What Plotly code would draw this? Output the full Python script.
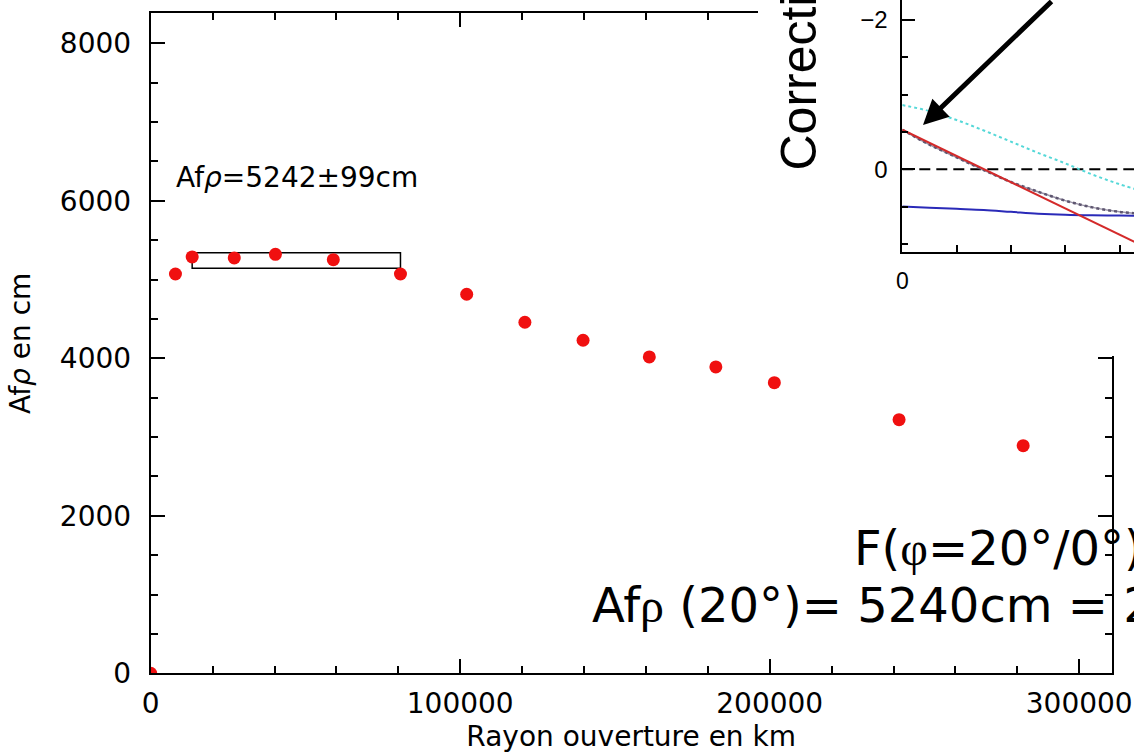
import plotly.graph_objects as go

W, H = 1134, 753

# ---- main chart data ----
radius_km = [0, 8000, 13400, 27000, 40300, 59000, 80700, 102100, 120900,
             139700, 161100, 182600, 201500, 241800, 281900]
afrho_cm = [0, 5070, 5287, 5274, 5320, 5252, 5070, 4813, 4457,
            4229, 4017, 3890, 3690, 3220, 2890]
plateau_mean = 5242
plateau_err = 99
plateau_x = [13400, 80700]

x_ticks = [0, 100000, 200000, 300000]
y_ticks = [0, 2000, 4000, 6000, 8000]

# ---- inset data (correction curves vs phase angle) ----
phase_deg = [0, 5, 10, 15, 20, 25, 30, 35, 40, 45]
corr_cyan = [-0.86, -0.78, -0.66, -0.52, -0.37, -0.22, -0.08, 0.07, 0.20, 0.31]
corr_red = [-0.53, -0.355, -0.18, 0.0, 0.17, 0.35, 0.52, 0.70, 0.875, 1.05]
corr_gray = [-0.53, -0.33, -0.16, 0.01, 0.17, 0.30, 0.42, 0.51, 0.57, 0.60]
corr_blue = [0.50, 0.515, 0.53, 0.545, 0.57, 0.595, 0.61, 0.617, 0.62, 0.625]
zero_x = [0, 45]
zero_y = [0, 0]


def fx(p):
    return p / W


def fy(p):
    return 1 - p / H


fig = go.Figure()

# main points
fig.add_trace(go.Scatter(
    x=radius_km, y=afrho_cm, mode="markers",
    marker=dict(color="#f01010", size=13, line=dict(width=0)),
    xaxis="x", yaxis="y", cliponaxis=True, showlegend=False))

# blank subplot that acts as the white inset panel
fig.add_trace(go.Scatter(x=[None], y=[None], xaxis="x2", yaxis="y2",
                         showlegend=False))

# inset curves
fig.add_trace(go.Scatter(x=zero_x, y=zero_y, mode="lines",
                         line=dict(color="black", width=2, dash="11px,6px"),
                         xaxis="x3", yaxis="y3", showlegend=False))
fig.add_trace(go.Scatter(x=phase_deg, y=corr_cyan, mode="lines",
                         line=dict(color="#55d8d8", width=2, dash="dot", shape="spline"),
                         xaxis="x3", yaxis="y3", showlegend=False))
fig.add_trace(go.Scatter(x=phase_deg, y=corr_blue, mode="lines",
                         line=dict(color="#2a2ab8", width=2, shape="spline"),
                         xaxis="x3", yaxis="y3", showlegend=False))
fig.add_trace(go.Scatter(x=phase_deg, y=corr_gray, mode="lines",
                         line=dict(color="#9a94a8", width=1.5, shape="spline"),
                         xaxis="x3", yaxis="y3", showlegend=False))
fig.add_trace(go.Scatter(x=phase_deg, y=corr_gray, mode="lines",
                         line=dict(color="#5e5670", width=2.5, dash="dot", shape="spline"),
                         xaxis="x3", yaxis="y3", showlegend=False))
fig.add_trace(go.Scatter(x=phase_deg, y=corr_red, mode="lines",
                         line=dict(color="#d42a2a", width=2),
                         xaxis="x3", yaxis="y3", showlegend=False))

# plateau rectangle
fig.add_shape(type="rect", xref="x", yref="y",
              x0=plateau_x[0], x1=plateau_x[1],
              y0=plateau_mean - plateau_err, y1=plateau_mean + plateau_err,
              line=dict(color="black", width=1.5), layer="below")

tickfont_main = dict(family="DejaVu Sans", size=28, color="black")
tickfont_inset = dict(family="Liberation Sans", size=24, color="black")

fig.update_layout(
    template="none",
    width=W, height=H,
    margin=dict(l=0, r=0, t=0, b=0, pad=0, autoexpand=False),
    paper_bgcolor="white", plot_bgcolor="white",
    showlegend=False,
    xaxis=dict(
        domain=[fx(150.7), fx(1111.7)], range=[0, 310500], anchor="y",
        automargin=False,
        tickvals=x_ticks, tickformat="d",
        showline=True, linewidth=2, linecolor="black", mirror="ticks",
        ticks="inside", ticklen=14, tickwidth=2, tickcolor="black",
        minor=dict(dtick=20000, tick0=0, ticks="inside", ticklen=7,
                   tickwidth=2, tickcolor="black", showgrid=False),
        showgrid=False, zeroline=False, tickfont=tickfont_main,
        ticklabelstandoff=4,
        title=dict(text="Rayon ouverture en km",
                   font=dict(family="DejaVu Sans", size=28, color="black"),
                   standoff=2),
    ),
    yaxis=dict(
        domain=[fy(673.3), fy(13.3)], range=[0, 8380], anchor="x",
        automargin=False,
        tickvals=y_ticks, tickformat="d",
        showline=True, linewidth=2, linecolor="black", mirror="ticks",
        ticks="inside", ticklen=14, tickwidth=2, tickcolor="black",
        minor=dict(dtick=500, tick0=0, ticks="inside", ticklen=7,
                   tickwidth=2, tickcolor="black", showgrid=False),
        showgrid=False, zeroline=False, tickfont=tickfont_main,
        ticklabelstandoff=12,
        title=dict(text="Af<i>ρ</i> en cm",
                   font=dict(family="DejaVu Sans", size=28, color="black"),
                   standoff=21),
    ),
    xaxis2=dict(domain=[fx(758), 1], range=[0, 1], anchor="y2",
                automargin=False, showline=False, showticklabels=False,
                ticks="", showgrid=False, zeroline=False, fixedrange=True),
    yaxis2=dict(domain=[fy(356), 1], range=[0, 1], anchor="x2",
                automargin=False, showline=False, showticklabels=False,
                ticks="", showgrid=False, zeroline=False, fixedrange=True),
    xaxis3=dict(
        domain=[fx(902.3), 1], range=[0, 42.67], anchor="y3",
        automargin=False,
        tickvals=[0], showline=True, linewidth=2, linecolor="black",
        ticks="inside", ticklen=7, tickwidth=2, tickcolor="black",
        minor=dict(dtick=10, tick0=0, ticks="inside", ticklen=7,
                   tickwidth=2, tickcolor="black", showgrid=False),
        showgrid=False, zeroline=False,
        tickfont=dict(family="Liberation Sans", size=23, color="black"),
        ticklabelstandoff=8,
    ),
    yaxis3=dict(
        domain=[fy(251.7), 1], range=[1.104, -2.268], anchor="x3",
        automargin=False,
        tickvals=[-2, 0], showline=True, linewidth=2, linecolor="black",
        ticks="inside", ticklen=13, tickwidth=2, tickcolor="black",
        minor=dict(dtick=0.5, tick0=0, ticks="inside", ticklen=6,
                   tickwidth=2, tickcolor="black", showgrid=False),
        showgrid=False, zeroline=False, tickfont=tickfont_inset,
        ticklabelstandoff=8,
    ),
)

serif = "font-family:Liberation Serif"
big_font = dict(family="DejaVu Sans", size=48, color="black")
annotations = [
    dict(text="Af<i>ρ</i>=5242±99cm", x=7530, y=6290, xref="x", yref="y",
         xanchor="left", yanchor="middle", showarrow=False,
         font=dict(family="DejaVu Sans", size=28, color="black")),
    dict(text="Correction", x=fx(798), y=fy(173), xref="paper", yref="paper",
         xanchor="center", yanchor="bottom", textangle=-90, showarrow=False,
         font=dict(family="Liberation Sans", size=50, color="black")),
    dict(text="F(<span style='%s'>φ</span>=20°/0°)" % serif,
         x=fx(852), y=fy(578), xref="paper", yref="paper",
         xanchor="left", yanchor="bottom", showarrow=False, font=big_font),
    dict(text="Af<span style='%s'>ρ</span> (20°)= 5240cm = 2" % serif,
         x=fx(590), y=fy(635), xref="paper", yref="paper",
         xanchor="left", yanchor="bottom", showarrow=False, font=big_font),
    dict(text="", x=fx(923), y=fy(125), xref="paper", yref="paper",
         ax=130, ay=-145, showarrow=True, arrowhead=2, arrowsize=1,
         arrowwidth=5, arrowcolor="black"),
]
fig.update_layout(annotations=annotations)

fig.write_html(
    "out.html",
    config={"displayModeBar": False},
    post_script="document.body.style.margin='0px';document.body.style.overflow='hidden';",
)
